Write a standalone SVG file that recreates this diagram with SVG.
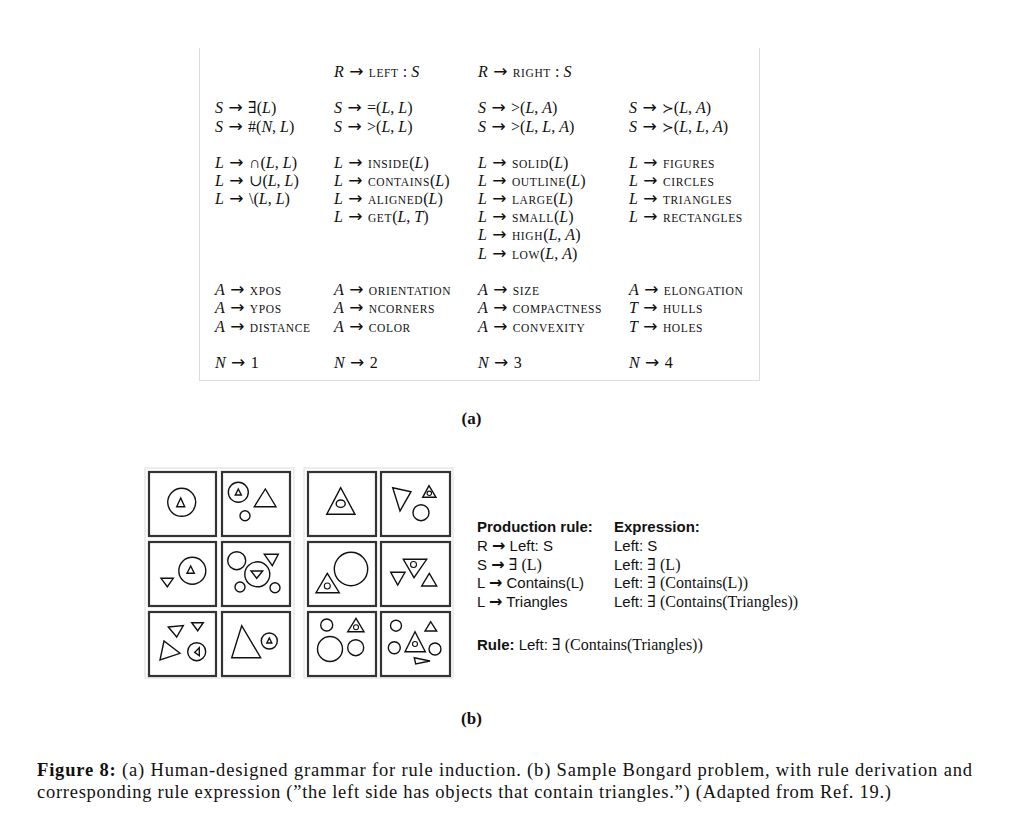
<svg xmlns="http://www.w3.org/2000/svg" width="1010" height="819" viewBox="0 0 1010 819">
<style>
.m{font-family:"Liberation Serif","DejaVu Serif",serif;font-size:16px;fill:#111}
.i{font-style:italic}
.sc{font-size:11.5px;letter-spacing:0.6px}
.ar{font-family:"DejaVu Sans",sans-serif;font-size:17px}
.frame{fill:none;stroke:#dcdcdc;stroke-width:1}
.box{fill:none;stroke:#333;stroke-width:2.2}
.sh{fill:none;stroke:#111;stroke-width:1.4;stroke-linejoin:miter}
.sh2{fill:none;stroke:#111;stroke-width:1.1}
.sans{font-family:"Liberation Sans",Arial,sans-serif;font-size:15px;fill:#111}
.b{font-weight:bold}
.ba{font-family:"DejaVu Sans",sans-serif;font-weight:bold;font-size:16px}
.ser{font-family:"Liberation Serif","DejaVu Serif",serif;font-size:16px}
.cap{font-family:"Liberation Serif","DejaVu Serif",serif;font-size:18.5px;fill:#111}
.lab{font-family:"Liberation Serif","DejaVu Serif",serif;font-size:17px;font-weight:bold;fill:#111}
</style>
<rect width="1010" height="819" fill="#fff"/>

<g id="grammar">
<path class="frame" d="M199.5,48 V380.5 H759.5 V48"/>
<text class="m" x="334" y="76.5"><tspan class="i">R</tspan><tspan class="ar"> → </tspan><tspan class="sc">LEFT</tspan> : <tspan class="i">S</tspan></text>
<text class="m" x="478" y="76.5"><tspan class="i">R</tspan><tspan class="ar"> → </tspan><tspan class="sc">RIGHT</tspan> : <tspan class="i">S</tspan></text>

<text class="m" x="215" y="113"><tspan class="i">S</tspan><tspan class="ar"> → </tspan>∃(<tspan class="i">L</tspan>)</text>
<text class="m" x="215" y="131.5"><tspan class="i">S</tspan><tspan class="ar"> → </tspan>#(<tspan class="i">N</tspan>, <tspan class="i">L</tspan>)</text>
<text class="m" x="334" y="113"><tspan class="i">S</tspan><tspan class="ar"> → </tspan>=(<tspan class="i">L</tspan>, <tspan class="i">L</tspan>)</text>
<text class="m" x="334" y="131.5"><tspan class="i">S</tspan><tspan class="ar"> → </tspan>&gt;(<tspan class="i">L</tspan>, <tspan class="i">L</tspan>)</text>
<text class="m" x="478" y="113"><tspan class="i">S</tspan><tspan class="ar"> → </tspan>&gt;(<tspan class="i">L</tspan>, <tspan class="i">A</tspan>)</text>
<text class="m" x="478" y="131.5"><tspan class="i">S</tspan><tspan class="ar"> → </tspan>&gt;(<tspan class="i">L</tspan>, <tspan class="i">L</tspan>, <tspan class="i">A</tspan>)</text>
<text class="m" x="629" y="113"><tspan class="i">S</tspan><tspan class="ar"> → </tspan><tspan font-family="DejaVu Sans" font-size="14px">≻</tspan>(<tspan class="i">L</tspan>, <tspan class="i">A</tspan>)</text>
<text class="m" x="629" y="131.5"><tspan class="i">S</tspan><tspan class="ar"> → </tspan><tspan font-family="DejaVu Sans" font-size="14px">≻</tspan>(<tspan class="i">L</tspan>, <tspan class="i">L</tspan>, <tspan class="i">A</tspan>)</text>

<text class="m" x="215" y="167.5"><tspan class="i">L</tspan><tspan class="ar"> → </tspan>∩(<tspan class="i">L</tspan>, <tspan class="i">L</tspan>)</text>
<text class="m" x="215" y="185.7"><tspan class="i">L</tspan><tspan class="ar"> → </tspan>∪(<tspan class="i">L</tspan>, <tspan class="i">L</tspan>)</text>
<text class="m" x="215" y="203.9"><tspan class="i">L</tspan><tspan class="ar"> → </tspan>\(<tspan class="i">L</tspan>, <tspan class="i">L</tspan>)</text>

<text class="m" x="334" y="167.5"><tspan class="i">L</tspan><tspan class="ar"> → </tspan><tspan class="sc">INSIDE</tspan>(<tspan class="i">L</tspan>)</text>
<text class="m" x="334" y="185.7"><tspan class="i">L</tspan><tspan class="ar"> → </tspan><tspan class="sc">CONTAINS</tspan>(<tspan class="i">L</tspan>)</text>
<text class="m" x="334" y="203.9"><tspan class="i">L</tspan><tspan class="ar"> → </tspan><tspan class="sc">ALIGNED</tspan>(<tspan class="i">L</tspan>)</text>
<text class="m" x="334" y="222.1"><tspan class="i">L</tspan><tspan class="ar"> → </tspan><tspan class="sc">GET</tspan>(<tspan class="i">L</tspan>, <tspan class="i">T</tspan>)</text>

<text class="m" x="478" y="167.5"><tspan class="i">L</tspan><tspan class="ar"> → </tspan><tspan class="sc">SOLID</tspan>(<tspan class="i">L</tspan>)</text>
<text class="m" x="478" y="185.7"><tspan class="i">L</tspan><tspan class="ar"> → </tspan><tspan class="sc">OUTLINE</tspan>(<tspan class="i">L</tspan>)</text>
<text class="m" x="478" y="203.9"><tspan class="i">L</tspan><tspan class="ar"> → </tspan><tspan class="sc">LARGE</tspan>(<tspan class="i">L</tspan>)</text>
<text class="m" x="478" y="222.1"><tspan class="i">L</tspan><tspan class="ar"> → </tspan><tspan class="sc">SMALL</tspan>(<tspan class="i">L</tspan>)</text>
<text class="m" x="478" y="240.3"><tspan class="i">L</tspan><tspan class="ar"> → </tspan><tspan class="sc">HIGH</tspan>(<tspan class="i">L</tspan>, <tspan class="i">A</tspan>)</text>
<text class="m" x="478" y="258.5"><tspan class="i">L</tspan><tspan class="ar"> → </tspan><tspan class="sc">LOW</tspan>(<tspan class="i">L</tspan>, <tspan class="i">A</tspan>)</text>

<text class="m" x="629" y="167.5"><tspan class="i">L</tspan><tspan class="ar"> → </tspan><tspan class="sc">FIGURES</tspan></text>
<text class="m" x="629" y="185.7"><tspan class="i">L</tspan><tspan class="ar"> → </tspan><tspan class="sc">CIRCLES</tspan></text>
<text class="m" x="629" y="203.9"><tspan class="i">L</tspan><tspan class="ar"> → </tspan><tspan class="sc">TRIANGLES</tspan></text>
<text class="m" x="629" y="222.1"><tspan class="i">L</tspan><tspan class="ar"> → </tspan><tspan class="sc">RECTANGLES</tspan></text>

<text class="m" x="215" y="295"><tspan class="i">A</tspan><tspan class="ar"> → </tspan><tspan class="sc">XPOS</tspan></text>
<text class="m" x="215" y="313.3"><tspan class="i">A</tspan><tspan class="ar"> → </tspan><tspan class="sc">YPOS</tspan></text>
<text class="m" x="215" y="331.6"><tspan class="i">A</tspan><tspan class="ar"> → </tspan><tspan class="sc">DISTANCE</tspan></text>
<text class="m" x="334" y="295"><tspan class="i">A</tspan><tspan class="ar"> → </tspan><tspan class="sc">ORIENTATION</tspan></text>
<text class="m" x="334" y="313.3"><tspan class="i">A</tspan><tspan class="ar"> → </tspan><tspan class="sc">NCORNERS</tspan></text>
<text class="m" x="334" y="331.6"><tspan class="i">A</tspan><tspan class="ar"> → </tspan><tspan class="sc">COLOR</tspan></text>
<text class="m" x="478" y="295"><tspan class="i">A</tspan><tspan class="ar"> → </tspan><tspan class="sc">SIZE</tspan></text>
<text class="m" x="478" y="313.3"><tspan class="i">A</tspan><tspan class="ar"> → </tspan><tspan class="sc">COMPACTNESS</tspan></text>
<text class="m" x="478" y="331.6"><tspan class="i">A</tspan><tspan class="ar"> → </tspan><tspan class="sc">CONVEXITY</tspan></text>
<text class="m" x="629" y="295"><tspan class="i">A</tspan><tspan class="ar"> → </tspan><tspan class="sc">ELONGATION</tspan></text>
<text class="m" x="629" y="313.3"><tspan class="i">T</tspan><tspan class="ar"> → </tspan><tspan class="sc">HULLS</tspan></text>
<text class="m" x="629" y="331.6"><tspan class="i">T</tspan><tspan class="ar"> → </tspan><tspan class="sc">HOLES</tspan></text>

<text class="m" x="215" y="368"><tspan class="i">N</tspan><tspan class="ar"> → </tspan>1</text>
<text class="m" x="334" y="368"><tspan class="i">N</tspan><tspan class="ar"> → </tspan>2</text>
<text class="m" x="478" y="368"><tspan class="i">N</tspan><tspan class="ar"> → </tspan>3</text>
<text class="m" x="629" y="368"><tspan class="i">N</tspan><tspan class="ar"> → </tspan>4</text>
</g>

<text id="label-a" class="lab" x="471.5" y="424" text-anchor="middle">(a)</text>

<g id="bongard-left">
<rect class="frame" x="145" y="468" width="149" height="210"/>
<rect class="box" x="149" y="472" width="67" height="64"/>
<rect class="box" x="222" y="472" width="68" height="64"/>
<rect class="box" x="149" y="542" width="67" height="64"/>
<rect class="box" x="222" y="542" width="68" height="64"/>
<rect class="box" x="149" y="612" width="67" height="64"/>
<rect class="box" x="222" y="612" width="68" height="64"/>
<circle class="sh" cx="181.7" cy="502.3" r="14"/>
<polygon class="sh" points="180.7,498 176.7,506.7 184.7,506.7"/>
<circle class="sh" cx="238.3" cy="492.3" r="10"/>
<polygon class="sh" points="238.3,489 235.3,495 241.3,495"/>
<polygon class="sh" points="265.3,489 254.3,506.7 276,506.7"/>
<circle class="sh" cx="245" cy="515.7" r="5"/>
<circle class="sh" cx="192.3" cy="570.7" r="13.5"/>
<polygon class="sh" points="190.7,566 187,573.3 194.3,573.3"/>
<polygon class="sh" points="161,578.3 173.3,578.3 167.3,586.7"/>
<circle class="sh" cx="236.7" cy="560.7" r="9"/>
<circle class="sh" cx="257.3" cy="574.3" r="12.5"/>
<polygon class="sh" points="251,571 262.7,571 256.7,578.3"/>
<polygon class="sh" points="264.3,554.3 278.3,554.3 272.3,565.7"/>
<circle class="sh" cx="240" cy="587" r="5"/>
<circle class="sh" cx="275" cy="587.7" r="5"/>
<polygon class="sh" points="168.3,627 183.3,625.5 176.7,637"/>
<polygon class="sh" points="191.7,622.7 203.3,622.7 197.7,630.7"/>
<polygon class="sh" points="164,641 160,660 180,653.3"/>
<circle class="sh" cx="196.7" cy="651.7" r="9"/>
<polygon class="sh" points="199.3,647.7 199.3,655.7 194.7,652.3"/>
<polygon class="sh" points="241.7,625.7 231.7,657.7 260.7,657.7"/>
<circle class="sh" cx="269.3" cy="641" r="8"/>
<polygon class="sh" points="269.3,638 266.8,643 271.8,643"/>
</g>

<g id="bongard-right">
<rect class="frame" x="304" y="468" width="149" height="210"/>
<rect class="box" x="308" y="472" width="68" height="64"/>
<rect class="box" x="381" y="472" width="69" height="64"/>
<rect class="box" x="308" y="542" width="68" height="64"/>
<rect class="box" x="381" y="542" width="69" height="64"/>
<rect class="box" x="308" y="612" width="68" height="64"/>
<rect class="box" x="381" y="612" width="69" height="64"/>
<polygon class="sh" points="340.7,487.7 326.7,514.3 355,514.3"/>
<ellipse class="sh" cx="340.7" cy="503.7" rx="4.5" ry="3.7"/>
<polygon class="sh" points="392.7,487.7 411,491.7 400,511"/>
<polygon class="sh" points="429,485.7 422.7,497.3 436,497.3"/>
<circle class="sh2" cx="429.3" cy="493.3" r="2.2"/>
<circle class="sh" cx="421" cy="512.7" r="8"/>
<circle class="sh" cx="351" cy="569" r="16.7"/>
<polygon class="sh" points="327.3,573.3 316,592.7 339.3,592.7"/>
<circle class="sh2" cx="327.3" cy="586" r="3"/>
<polygon class="sh" points="403.3,559.3 426.7,559.3 414,577.7"/>
<circle class="sh2" cx="413.5" cy="564.5" r="3"/>
<polygon class="sh" points="390.7,572.3 405,572.3 397.7,585"/>
<polygon class="sh" points="429.3,573.3 421.7,586 436.7,586"/>
<circle class="sh" cx="326.7" cy="625" r="6"/>
<polygon class="sh" points="356,618.3 347.7,631.7 364,631.7"/>
<circle class="sh2" cx="356" cy="627.3" r="2.5"/>
<circle class="sh" cx="330" cy="649" r="12.5"/>
<circle class="sh" cx="355.7" cy="647.7" r="8"/>
<circle class="sh" cx="396" cy="625.7" r="5.5"/>
<polygon class="sh" points="430.7,621.7 425,631 436.7,631"/>
<circle class="sh" cx="394.3" cy="647.7" r="6"/>
<polygon class="sh" points="415,631.7 405,651.7 425.3,651.7"/>
<circle class="sh2" cx="415" cy="644" r="2.5"/>
<circle class="sh" cx="435" cy="649" r="6"/>
<polygon class="sh" points="414.3,657.7 430,661 415.7,664"/>
</g>

<g id="derivation">
<text class="sans b" x="477" y="532">Production rule:</text>
<text class="sans" x="477" y="551">R <tspan class="ba">→</tspan> Left: S</text>
<text class="sans" x="477" y="569.5">S <tspan class="ba">→</tspan> <tspan class="ser">∃ (L)</tspan></text>
<text class="sans" x="477" y="588">L <tspan class="ba">→</tspan> Contains(L)</text>
<text class="sans" x="477" y="606.5">L <tspan class="ba">→</tspan> Triangles</text>
<text class="sans b" x="614" y="532">Expression:</text>
<text class="sans" x="614" y="551">Left: S</text>
<text class="sans" x="614" y="569.5">Left: <tspan class="ser">∃ (L)</tspan></text>
<text class="sans" x="614" y="588">Left: <tspan class="ser">∃ (Contains(L))</tspan></text>
<text class="sans" x="614" y="606.5">Left: <tspan class="ser">∃ (Contains(Triangles))</tspan></text>
<text class="sans" x="477" y="650"><tspan class="b">Rule:</tspan> Left: <tspan class="ser">∃ (Contains(Triangles))</tspan></text>
</g>

<text id="label-b" class="lab" x="471.5" y="724" text-anchor="middle">(b)</text>

<g id="caption">
<text class="cap" x="37" y="776" textLength="935" lengthAdjust="spacing"><tspan font-weight="bold">Figure 8:</tspan> (a) Human-designed grammar for rule induction. (b) Sample Bongard problem, with rule derivation and</text>
<text class="cap" x="37" y="798" textLength="854" lengthAdjust="spacing">corresponding rule expression (”the left side has objects that contain triangles.”) (Adapted from Ref. 19.)</text>
</g>
</svg>
